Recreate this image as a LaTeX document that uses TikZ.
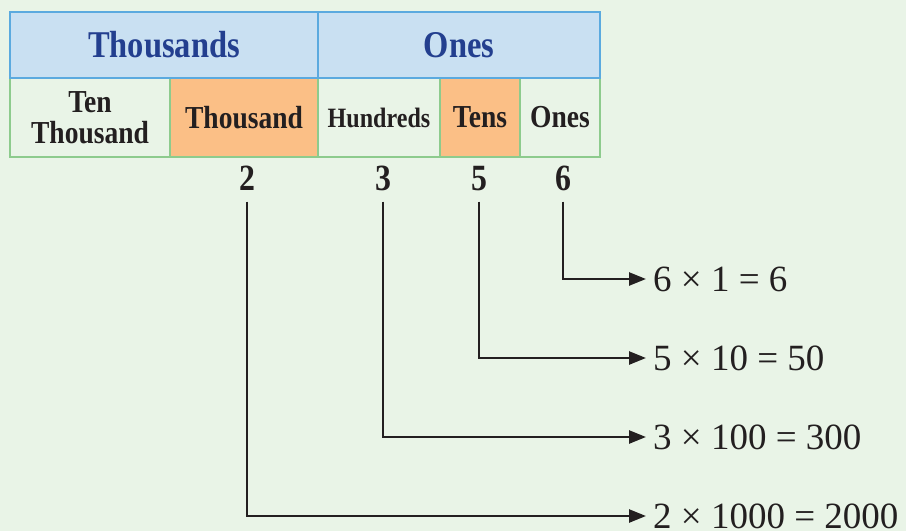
\documentclass[tikz,border=0pt]{standalone}
\usepackage{fontspec}
\setmainfont{Liberation Serif}
\newfontfamily\cond[FakeStretch=0.86]{Liberation Serif}
\usetikzlibrary{arrows.meta}
\definecolor{bgc}{HTML}{E9F4E7}
\definecolor{hdrfill}{HTML}{C9E0F2}
\definecolor{hdrline}{HTML}{5BAADF}
\definecolor{grnline}{HTML}{8DCB8D}
\definecolor{orng}{HTML}{FBBF86}
\definecolor{bluetxt}{HTML}{233F8F}
\definecolor{ink}{HTML}{231F20}
\tikzset{
  hdr/.style={draw=hdrline, line width=2pt, fill=hdrfill, text=bluetxt, inner sep=0pt,
    minimum height=66pt, font=\cond\bfseries\fontsize{37.8}{40}\selectfont},
  cell/.style={draw=grnline, line width=2pt, fill=bgc, text=ink, inner sep=0pt,
    minimum height=79pt, align=center, font=\cond\bfseries\fontsize{32}{31}\selectfont},
  hot/.style={cell, fill=orng},
  digit/.style={text=ink, inner xsep=0pt, inner ysep=11pt, text height=25pt, text depth=0pt,
    font=\cond\bfseries\fontsize{37}{40}\selectfont},
  eq/.style={text=ink, anchor=west, inner xsep=7pt, inner ysep=0pt, text height=25pt, text depth=0pt,
    font=\fontsize{37}{40}\selectfont},
  conn/.style={draw=ink, line width=2.5pt, -{Triangle[length=17pt,width=13pt]}}
}
\begin{document}
\begin{tikzpicture}[x=1pt,y=-1pt]
\fill[bgc] (0,0) rectangle (906,531);
\useasboundingbox (0,0) rectangle (906,531);
% lower row
\node[cell, minimum width=160pt] (tenth) at (90,117.5) {Ten\\Thousand};
\node[hot, minimum width=148pt] (thou) at (244,117.5) {Thousand};
\node[cell, minimum width=122pt, font=\cond\bfseries\fontsize{28}{30}\selectfont] (hund) at (379,117.5) {Hundreds};
\node[hot, minimum width=80pt] (tens) at (480,117.5) {Tens};
\node[cell, minimum width=80pt] (ones) at (560,117.5) {Ones};
% header row
\node[hdr, minimum width=308pt] (hth) at (164,45) {Thousands};
\node[hdr, minimum width=282pt] (hon) at (459,45) {Ones};
% digits
\node[digit] (d2) at (247,178) {2};
\node[digit] (d3) at (383,178) {3};
\node[digit] (d5) at (479,178) {5};
\node[digit] (d6) at (563,178) {6};
% equations
\node[eq] (e6) at (646,279) {6 × 1 = 6};
\node[eq] (e5) at (646,358) {5 × 10 = 50};
\node[eq] (e3) at (646,437) {3 × 100 = 300};
\node[eq] (e2) at (646,516) {2 × 1000 = 2000};
% connectors
\draw[conn] (d6.south) |- (e6.west);
\draw[conn] (d5.south) |- (e5.west);
\draw[conn] (d3.south) |- (e3.west);
\draw[conn] (d2.south) |- (e2.west);
\end{tikzpicture}
\end{document}
